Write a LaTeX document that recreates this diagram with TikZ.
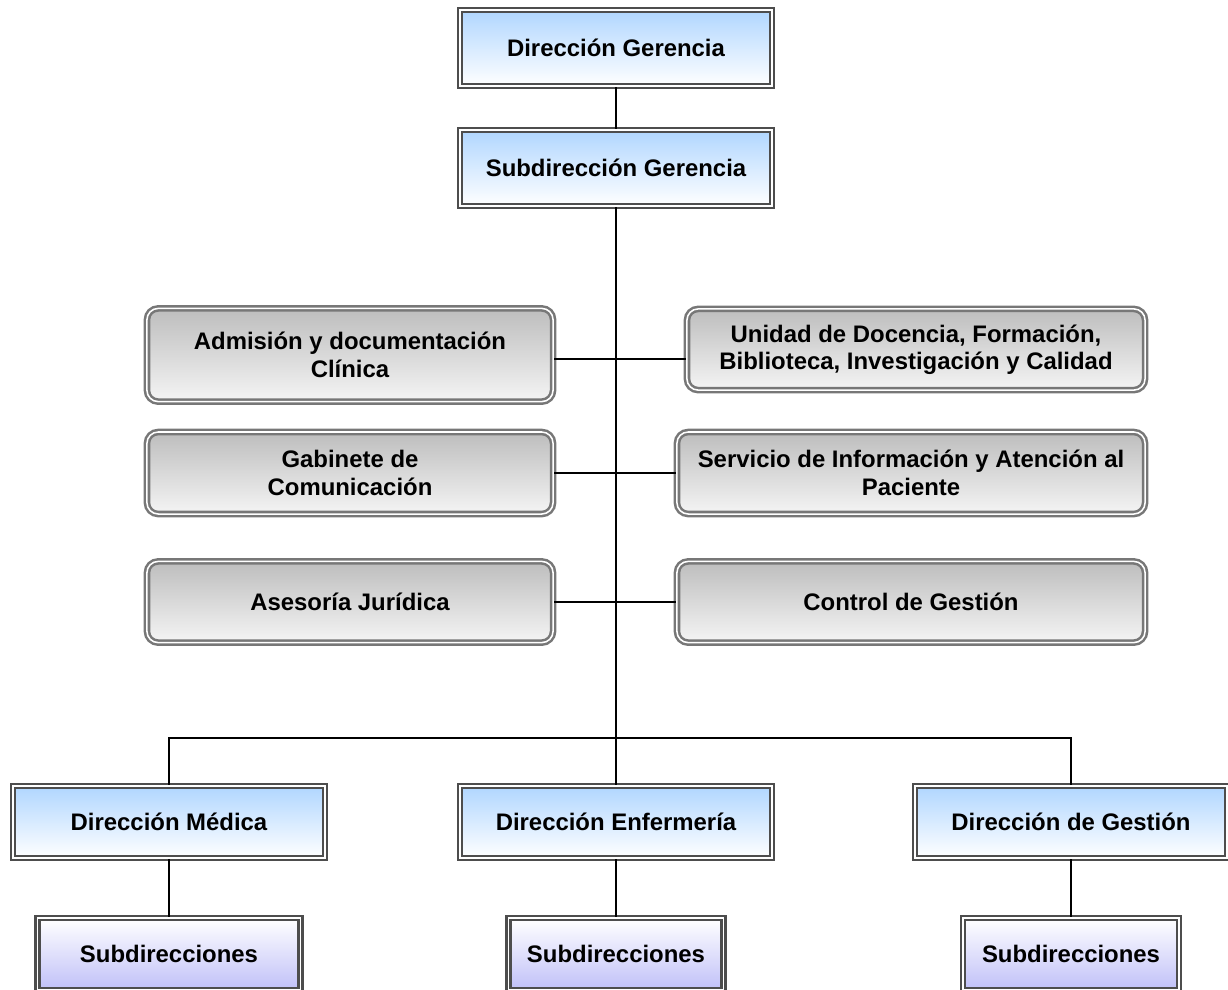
\documentclass[tikz,border=0pt]{standalone}
\usepackage{fontspec}
\setmainfont{Liberation Sans}
\definecolor{headblue}{HTML}{B0D6FF}
\definecolor{sublilac}{HTML}{C0C0F8}
\definecolor{framedark}{HTML}{4D4D4D}
\definecolor{framelight}{HTML}{777777}
\definecolor{staffgray}{HTML}{BDBDBD}
\begin{document}
\begin{tikzpicture}
            [x = 0.025cm, y = -0.025cm,
             every node/.style = {font = \fontsize{17}{19.5}\selectfont\bfseries, align = center, inner sep = 0pt},
             frame/.style = {draw = framedark, line width = 1.8pt, double = white, double distance = 1.1pt},
             headbox/.style = {frame, top color = headblue, bottom color = white, minimum width = 7.8cm, minimum height = 1.9cm},
             staffbox/.style = {frame, draw = framelight, rounded corners = 8pt, top color = staffgray, bottom color = white!96!black},
             subbox/.style = {frame, top color = white, bottom color = sublilac, minimum height = 1.8cm},
             link/.style = {line width = 1.4pt}]
            \useasboundingbox (0,0) rectangle (1228,989);
            \node[headbox] (gerencia) at (616,48) {Dirección Gerencia};
            \node[headbox] (subgerencia) at (616,168) {Subdirección Gerencia};
            \node[staffbox, minimum width = 10.15cm, minimum height = 2.33cm] (admision) at (350,355) {Admisión y documentación\\Clínica};
            \node[staffbox, minimum width = 10.15cm, minimum height = 2.05cm] (gabinete) at (350,473) {Gabinete de\\Comunicación};
            \node[staffbox, minimum width = 10.15cm, minimum height = 2.03cm] (asesoria) at (350,602) {Asesoría Jurídica};
            \node[staffbox, minimum width = 11.45cm, minimum height = 2.03cm] (docencia) at (916,349.5) {Unidad de Docencia, Formación,\\Biblioteca, Investigación y Calidad};
            \node[staffbox, minimum width = 11.7cm, minimum height = 2.05cm] (atencion) at (911,473) {Servicio de Información y Atención al\\Paciente};
            \node[staffbox, minimum width = 11.7cm, minimum height = 2.03cm] (control) at (911,602) {Control de Gestión};
            \node[headbox, minimum height = 1.8cm] (medica) at (169,822) {Dirección Médica};
            \node[headbox, minimum height = 1.8cm] (enfermeria) at (616,822) {Dirección Enfermería};
            \node[headbox, minimum height = 1.8cm] (gestion) at (1071,822) {Dirección de Gestión};
            \node[subbox, minimum width = 6.57cm] (submedica) at (169,954) {Subdirecciones};
            \node[subbox, minimum width = 5.37cm] (subenfermeria) at (616,954) {Subdirecciones};
            \node[subbox, minimum width = 5.4cm] (subgestion) at (1071,954) {Subdirecciones};
            \coordinate (bus) at (616,738);
            \draw[link] (gerencia) -- (subgerencia);
            \draw[link] (subgerencia) -- (bus);
            \draw[link] (admision.east |- 0,359) -- (docencia.west |- 0,359);
            \draw[link] (gabinete.east) -- (atencion.west);
            \draw[link] (asesoria.east) -- (control.west);
            \draw[link] (medica.north) |- (bus) -| (gestion.north);
            \draw[link] (bus) -- (enfermeria);
            \draw[link] (medica) -- (submedica);
            \draw[link] (enfermeria) -- (subenfermeria);
            \draw[link] (gestion) -- (subgestion);
        \end{tikzpicture}
\end{document}
